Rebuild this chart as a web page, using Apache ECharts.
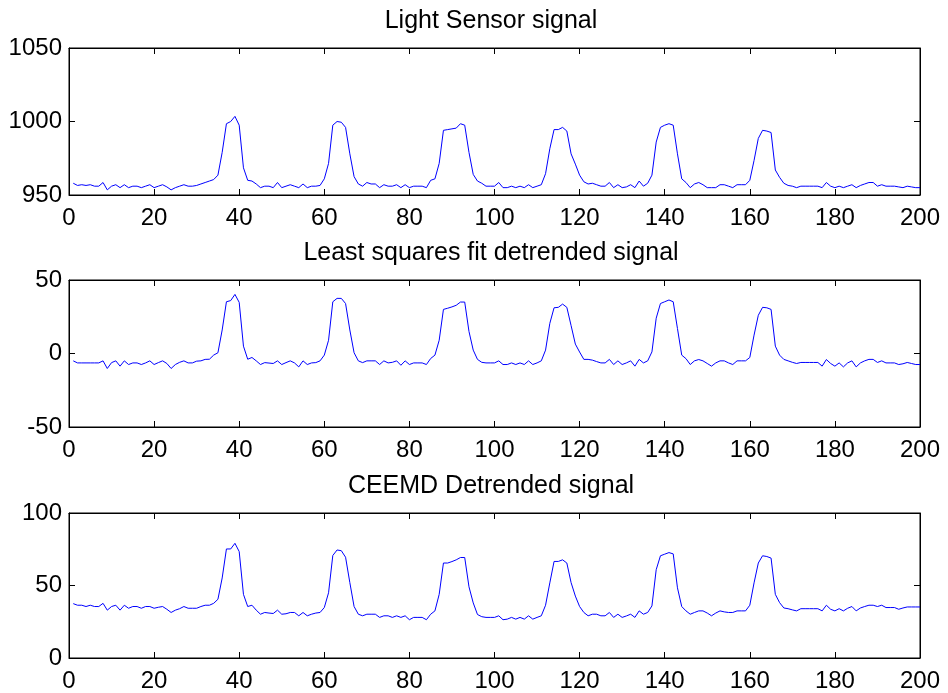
<!DOCTYPE html>
<html>
<head>
<meta charset="utf-8">
<script src="https://cdn.jsdelivr.net/npm/echarts@6/dist/echarts.min.js"></script>
<style>
html,body{margin:0;padding:0;background:#fff;}
#c{width:948px;height:693px;}
</style>
</head>
<body>
<div id="c"></div>
<script>
const titles = ["Light Sensor signal", "Least squares fit detrended signal", "CEEMD Detrended signal"];
const xTicks = [0, 20, 40, 60, 80, 100, 120, 140, 160, 180, 200];
const yRanges = [[950, 1050, 50], [-50, 50, 50], [0, 100, 50]];

const lightSignal = [
958,956.5,957,956.5,957,956,956,958.5,953.5,956,
957,955,957,955,956,956,955,956,957,955,
956,957,955.5,953.5,955,956,957,956,956,956.5,
957.5,958.5,959.5,960.5,963.5,979,998.5,1000,1003.5,997.5,
968.5,960,959.5,957.5,955,956,956,955,958.5,955,
956,957,956,955,957.5,955,956,956,956.5,961,
971.5,997.5,1000,999.5,996,978,962.5,957.5,956,958.5,
957.5,957.5,955,957,956,956,957,955,957,955,
956,956,956,955,960,961,971.5,994,994.5,995,
995.5,998.5,997.5,979,964,959.5,958,956,956,956,
958.5,955,955,956,955,956,955,957,955,956,
957,964.5,981.5,994.5,994.5,996,993.5,978,971,963.5,
959,957.5,958,957,956,956,958.5,955,957,955,
955.5,957,955,959.5,956,958,963.5,986,996,997.5,
998.5,997.5,978,961,958.5,955,957.5,958.5,957,955,
955,955,957,957,956,955,957,957,957,960,
973.5,988.5,994,993.5,992.5,967,962,958,956.5,956,
955,956,956,956,956,956,955,958.5,956,955,
956,955,956,957,955,956.5,957.5,958.5,958.5,956,
957,956,956,956,955.5,955,956,955.5,955,955
];

const lsDetrended = [
-5,-6.4,-6.4,-6.4,-6.4,-6.4,-6.4,-5,-10.2,-6.2,
-5,-8.6,-5,-7.5,-6.4,-6.4,-7.5,-6.4,-5,-7.5,
-6.2,-5,-6.8,-10.2,-7.5,-6,-5,-6.4,-6.4,-5.2,
-5,-4,-3.9,-1.1,0.5,16,35.2,36,40.2,34.8,
5,-3.9,-2.7,-5,-7.5,-6.2,-6.5,-6.8,-5,-7.5,
-6.2,-5,-6.4,-9.1,-5,-7.5,-6.4,-6.2,-5,-1.1,
9,35.2,37.5,37.5,34,16,0.5,-5,-6.2,-5,
-5,-5,-7.5,-5,-6.4,-6,-5,-8,-5,-7.5,
-6.4,-6.4,-6.4,-7.5,-3.4,-1.1,9,30,30.8,31.7,
32.8,35,35,15,2.3,-4,-6,-6.4,-6.4,-6.4,
-5,-7.5,-7.5,-6.4,-7.5,-6.4,-7.5,-5,-7.5,-6.4,
-5,2.3,20.5,31.1,31.4,33.6,31.4,19,6.4,1,
-4,-4,-4.5,-5.5,-6.4,-6.4,-4,-7.5,-5,-7.5,
-6.4,-5,-8.6,-4,-6.4,-5,1.1,24,34,35.2,
36.4,35.2,17,-1.1,-3.5,-7.5,-5,-4.1,-5,-6.8,
-8.6,-6.4,-5,-5,-6.4,-7.5,-5,-5,-5,-2.7,
12.5,26,31.4,31.1,30,5,-1.1,-4,-5,-6,
-6.8,-6.1,-6.1,-6.1,-6.1,-6.1,-8.6,-4.1,-6.8,-8.6,
-6.4,-9.1,-6.4,-5,-9.1,-6.4,-5,-4,-4,-6.1,
-5,-6.4,-6.4,-6.4,-7.5,-7,-6.1,-6.8,-7.5,-7.5
];

const ceemdDetrended = [
37.5,36.4,36.4,35.5,36.4,35.5,35.5,37.7,33,35.5,
36.4,33,36.4,34.3,35.5,35.5,34.3,35.5,35.5,34.3,
35,35.5,33.6,31.4,33,34,35.5,34.3,34.3,34.3,
35.5,36.4,36.4,37.7,40.5,55.2,75.2,75.2,79.1,73.4,
43.9,35.5,36.4,33,30.2,31.4,31,30.7,33,30.2,
30.5,31.4,31.4,29.1,31.4,29.1,30.2,31,31.4,34.8,
45,70.7,74.5,74,69.5,52,35.5,30.2,29.1,30.2,
30.2,30.2,28,29.1,29.1,28,29.1,28,29.1,26.4,
28,28,28,26.4,30.2,32.5,43.9,65.5,65.5,66.5,
67.7,69.3,69.3,49.1,38,30,28.5,28,28,28,
29.1,26.4,26.8,28,26.8,28,26.8,29.1,26.8,28,
29.1,36.4,51.8,66.6,66.6,67.7,65.5,52,42.7,35.5,
31.4,29.1,30.2,30.2,29.1,29.1,31.4,28,30.2,28,
29,30.2,28,32.5,30.2,31.4,35.9,60.9,70.5,71.6,
72.7,71.8,48.4,35.5,32.5,30.2,31.4,32.5,32.5,31,
29.1,31,32.5,31.8,31.4,31.4,32.5,32.5,32.5,36.4,
51.8,65.5,70.5,70,68.9,43.9,38.2,34.5,34,33.2,
32.5,34,34,34,34,34,32.5,36.4,33.6,32.5,
34,32.5,34.3,35.5,32.5,34.5,35.5,36.4,36.4,35.5,
36.4,34.8,34.8,34.8,33.6,34.5,35.2,35.2,35.2,35.2
];

const seriesValues = [lightSignal, lsDetrended, ceemdDetrended];

const FONT = '"Liberation Sans", Arial, sans-serif';
const gridTops = [48, 280, 513];
const gridH = 147;
const grids = [], xAxes = [], yAxes = [], series = [], titleArr = [];
const plain = v => String(v);

for (let i = 0; i < 3; i++) {
  grids.push({left: 69, right: 28, top: gridTops[i], height: gridH, show: true,
    borderColor: '#000', borderWidth: 1, backgroundColor: '#fff'});
  const tickStyle = {show: true, inside: true, length: 6, lineStyle: {color: '#000', width: 1}};
  xAxes.push({type: 'value', gridIndex: i, min: xTicks[0], max: xTicks[xTicks.length-1], interval: 20,
    position: 'bottom', axisLine: {show: true, onZero: false, lineStyle: {color: '#000', width: 1}},
    axisTick: tickStyle, splitLine: {show: false},
    axisLabel: {show: true, color: '#000', fontSize: 24, fontFamily: FONT, margin: 11, formatter: plain}});
  xAxes.push({type: 'value', gridIndex: i, min: xTicks[0], max: xTicks[xTicks.length-1], interval: 20,
    position: 'top', axisLine: {show: true, onZero: false, lineStyle: {color: '#000', width: 1}},
    axisTick: tickStyle, splitLine: {show: false}, axisLabel: {show: false}});
  const yr = yRanges[i];
  yAxes.push({type: 'value', gridIndex: i, min: yr[0], max: yr[1], interval: yr[2],
    position: 'left', axisLine: {show: true, onZero: false, lineStyle: {color: '#000', width: 1}},
    axisTick: tickStyle, splitLine: {show: false},
    axisLabel: {show: true, color: '#000', fontSize: 24, fontFamily: FONT, margin: 7, formatter: plain}});
  yAxes.push({type: 'value', gridIndex: i, min: yr[0], max: yr[1], interval: yr[2],
    position: 'right', axisLine: {show: true, onZero: false, lineStyle: {color: '#000', width: 1}},
    axisTick: tickStyle, splitLine: {show: false}, axisLabel: {show: false}});
  series.push({type: 'line', xAxisIndex: 2*i, yAxisIndex: 2*i,
    data: seriesValues[i].map((v, k) => [k + 1, v]),
    showSymbol: false, symbol: 'none', animation: false,
    lineStyle: {color: '#0000ff', width: 1}});
  titleArr.push({text: titles[i], left: 486, top: gridTops[i] - 44, textAlign: 'center',
    textStyle: {color: '#000', fontSize: 25, fontWeight: 'normal', fontFamily: FONT}});
}

const chart = echarts.init(document.getElementById('c'), null, {renderer: 'canvas'});
chart.setOption({
  backgroundColor: '#fff',
  animation: false,
  title: titleArr,
  grid: grids,
  xAxis: xAxes,
  yAxis: yAxes,
  series: series
});
</script>
</body>
</html>
